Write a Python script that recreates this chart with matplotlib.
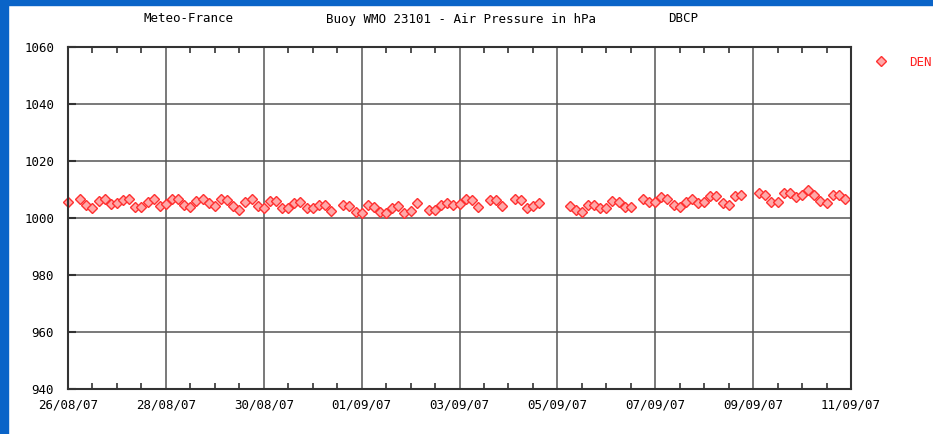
import numpy as np
import pandas as pd
import matplotlib
matplotlib.use("Agg")
import matplotlib.pyplot as plt
import matplotlib.dates as mdates
from matplotlib.patches import Rectangle
from datetime import datetime

# 3-hourly air pressure (hPa) from 26/08/07 00h, nan = missing
nan = np.nan
pressure = [
    1005.7, nan, 1006.7, 1004.6, 1003.6, 1006.0, 1006.7, 1004.8,
    1005.2, 1006.4, 1006.7, 1003.9, 1003.9, 1005.5, 1006.7, 1004.3,
    1005.0, 1006.7, 1006.7, 1004.6, 1003.9, 1006.0, 1006.7, 1005.2,
    1004.3, 1006.7, 1006.2, 1004.3, 1002.9, 1005.5, 1006.7, 1004.3,
    1003.4, 1006.0, 1006.0, 1003.4, 1003.4, 1005.3, 1005.5, 1003.4,
    1003.4, 1004.6, 1004.6, 1002.5, nan, 1004.6, 1004.1, 1002.2,
    1001.8, 1004.6, 1003.7, 1002.2, 1001.8, 1003.4, 1004.1, 1001.8,
    1002.5, 1005.3, nan, 1002.7, 1002.7, 1004.6, 1005.3, 1004.6,
    1004.8, 1006.7, 1006.2, 1003.9, nan, 1006.2, 1006.2, 1004.1,
    nan, 1006.7, 1006.2, 1003.6, 1004.2, 1005.2, nan, nan,
    nan, nan, 1004.2, 1002.8, 1002.1, 1004.7, 1004.7, 1003.5,
    1003.5, 1006.1, 1005.6, 1004.0, 1004.0, nan, 1006.8, 1005.6,
    1005.6, 1007.3, 1006.8, 1004.5, 1004.0, 1005.6, 1006.8, 1005.2,
    1005.6, 1007.7, 1007.7, 1005.2, 1004.5, 1007.7, 1008.2, nan,
    nan, 1008.7, 1008.2, 1005.6, 1005.6, 1008.9, 1008.9, 1007.3,
    1008.2, 1009.8, 1008.2, 1006.1, 1005.4, 1008.2, 1008.2, 1006.8,
]
times = pd.date_range("2007-08-26 00:00", periods=len(pressure), freq="3h")
y_ticks = [940, 960, 980, 1000, 1020, 1040, 1060]

W, H = 933, 434
fig = plt.figure(figsize=(W / 100, H / 100), dpi=100)
fig.patch.set_facecolor("white")
mono = "DejaVu Sans Mono"

# blue slide border on left and top
fig.add_artist(Rectangle((0, 0), 8 / W, 1, transform=fig.transFigure,
                         color="#0a64c8", zorder=0))
fig.add_artist(Rectangle((0, 1 - 5 / H), 1, 5 / H, transform=fig.transFigure,
                         color="#0a64c8", zorder=0))

ax = fig.add_axes([68 / W, 45 / H, (851 - 68) / W, (389 - 47) / H])
ax.plot(times, pressure, ls="none", marker="D", ms=4.8,
        mfc="#ffa8a8", mec="#ff3030", mew=1.0, clip_on=False, label="DEN")

ax.set_ylim(940, 1060)
ax.set_yticks(y_ticks)
ax.set_xlim(datetime(2007, 8, 26), datetime(2007, 9, 11))
ax.xaxis.set_major_locator(mdates.DayLocator(interval=2))
ax.xaxis.set_major_formatter(mdates.DateFormatter("%d/%m/%y"))
ax.xaxis.set_minor_locator(mdates.HourLocator(byhour=[0, 12]))

ax.grid(True, which="major", color="#555555", lw=1.1)
ax.set_axisbelow(True)
for s in ax.spines.values():
    s.set_color("#333333")
    s.set_linewidth(1.5)
ax.tick_params(axis="x", which="both", direction="in", top=True, colors="#333333",
               labelcolor="black", labelsize=9, pad=7)
ax.tick_params(axis="x", which="minor", length=4, width=1.2)
ax.tick_params(axis="x", which="major", length=0)
ax.tick_params(axis="y", direction="in", length=6, width=1.5, colors="#333333",
               labelcolor="black", labelsize=9, pad=10)
for lab in ax.get_xticklabels() + ax.get_yticklabels():
    lab.set_family(mono)

fig.text(188 / W, 1 - 19 / H, "Meteo-France", family=mono, fontsize=9,
         ha="center", va="center")
fig.text(461 / W, 1 - 19 / H, "Buoy WMO 23101 - Air Pressure in hPa", family=mono,
         fontsize=9, ha="center", va="center")
fig.text(683 / W, 1 - 19 / H, "DBCP", family=mono, fontsize=9,
         ha="center", va="center")

# legend sits at the right edge; its label is cut by the border as in the original
leg = ax.legend(loc="center left", bbox_to_anchor=(863 / W, 1 - 62 / H),
                bbox_transform=fig.transFigure, frameon=False, handlelength=1,
                handletextpad=1.76, prop={"family": mono, "size": 9},
                labelcolor="#ff2020")

fig.savefig("out.png", dpi=100)
